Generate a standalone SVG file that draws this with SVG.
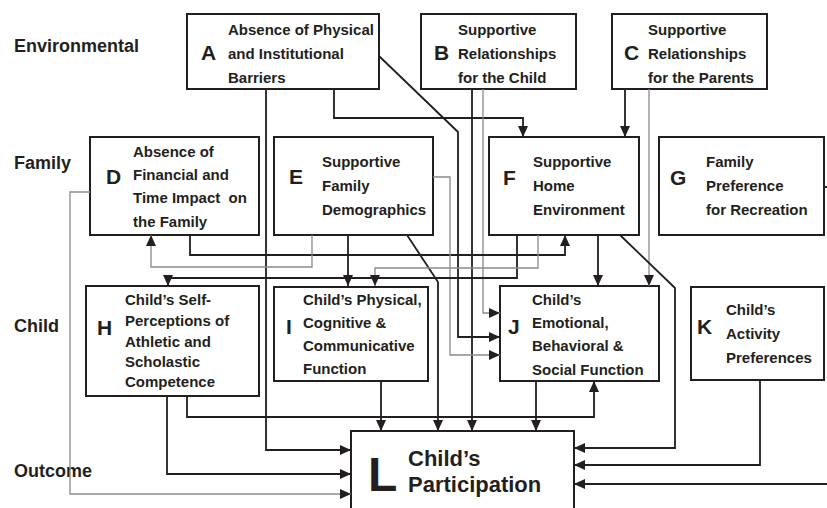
<svg xmlns="http://www.w3.org/2000/svg" width="827" height="508" viewBox="0 0 827 508">
<defs>
<style>
.box{fill:#fff;stroke:#231f20;stroke-width:2}
.t{font-family:"Liberation Sans",Arial,sans-serif;font-weight:bold;font-size:15px;fill:#231f20}
.lt{font-family:"Liberation Sans",Arial,sans-serif;font-weight:bold;font-size:21px;fill:#231f20}
.side{font-family:"Liberation Sans",Arial,sans-serif;font-weight:bold;font-size:18px;fill:#231f20}
.big{font-family:"Liberation Sans",Arial,sans-serif;font-weight:bold;font-size:22px;fill:#231f20}
.c{fill:none;stroke:#231f20;stroke-width:1.8;marker-end:url(#ah)}
.g{fill:none;stroke:#8a8a8a;stroke-width:1.3;marker-end:url(#ah)}
</style>
<marker id="ah" markerUnits="userSpaceOnUse" markerWidth="11" markerHeight="10" refX="11" refY="5" orient="auto">
<path d="M0,0 L11,5 L0,10 z" fill="#231f20"/>
</marker>
</defs>
<rect width="827" height="508" fill="#fff"/>
<g id="labels">
<text class="side" x="14" y="52">Environmental</text>
<text class="side" x="14" y="169">Family</text>
<text class="side" x="14" y="332">Child</text>
<text class="side" x="14" y="477">Outcome</text>
</g>
<g id="A">
<rect class="box" x="187" y="14" width="192" height="75"/>
<text class="lt" x="201" y="60">A</text>
<text class="t" x="228" y="35">Absence of Physical</text>
<text class="t" x="228" y="59">and Institutional</text>
<text class="t" x="228" y="83">Barriers</text>
</g>
<g id="B">
<rect class="box" x="421" y="14" width="155" height="75"/>
<text class="lt" x="434" y="60">B</text>
<text class="t" x="458" y="35">Supportive</text>
<text class="t" x="458" y="59">Relationships</text>
<text class="t" x="458" y="83">for the Child</text>
</g>
<g id="C">
<rect class="box" x="612" y="14" width="155" height="75"/>
<text class="lt" x="624" y="60">C</text>
<text class="t" x="648" y="35">Supportive</text>
<text class="t" x="648" y="59">Relationships</text>
<text class="t" x="648" y="83">for the Parents</text>
</g>
<g id="D">
<rect class="box" x="90" y="137" width="169" height="98"/>
<text class="lt" x="106" y="184">D</text>
<text class="t" x="133" y="157">Absence of</text>
<text class="t" x="133" y="180">Financial and</text>
<text class="t" x="133" y="203">Time Impact&#160; on</text>
<text class="t" x="133" y="227">the Family</text>
</g>
<g id="E">
<rect class="box" x="274" y="137" width="159" height="98"/>
<text class="lt" x="289" y="184">E</text>
<text class="t" x="322" y="167">Supportive</text>
<text class="t" x="322" y="191">Family</text>
<text class="t" x="322" y="215">Demographics</text>
</g>
<g id="F">
<rect class="box" x="489" y="137" width="150" height="98"/>
<text class="lt" x="503" y="185">F</text>
<text class="t" x="533" y="167">Supportive</text>
<text class="t" x="533" y="191">Home</text>
<text class="t" x="533" y="215">Environment</text>
</g>
<g id="G">
<rect class="box" x="659" y="137" width="165" height="98"/>
<text class="lt" x="670" y="185">G</text>
<text class="t" x="706" y="167">Family</text>
<text class="t" x="706" y="191">Preference</text>
<text class="t" x="706" y="215">for Recreation</text>
</g>
<g id="H">
<rect class="box" x="86" y="286" width="173" height="110"/>
<text class="lt" x="97" y="335">H</text>
<text class="t" x="125" y="305">Child’s Self-</text>
<text class="t" x="125" y="326">Perceptions of</text>
<text class="t" x="125" y="347">Athletic and</text>
<text class="t" x="125" y="367">Scholastic</text>
<text class="t" x="125" y="387">Competence</text>
</g>
<g id="I">
<rect class="box" x="274" y="287" width="154" height="94"/>
<text class="lt" x="286" y="334">I</text>
<text class="t" x="303" y="305">Child’s Physical,</text>
<text class="t" x="303" y="328">Cognitive &amp;</text>
<text class="t" x="303" y="351">Communicative</text>
<text class="t" x="303" y="374">Function</text>
</g>
<g id="J">
<rect class="box" x="500" y="286" width="159" height="95"/>
<text class="lt" x="508" y="334">J</text>
<text class="t" x="532" y="305">Child’s</text>
<text class="t" x="532" y="328">Emotional,</text>
<text class="t" x="532" y="351">Behavioral &amp;</text>
<text class="t" x="532" y="375">Social Function</text>
</g>
<g id="K">
<rect class="box" x="691" y="287" width="133" height="93"/>
<text class="lt" x="697" y="334">K</text>
<text class="t" x="726" y="315">Child’s</text>
<text class="t" x="726" y="339">Activity</text>
<text class="t" x="726" y="363">Preferences</text>
</g>
<g id="L">
<rect class="box" x="351" y="431" width="223" height="90"/>
<text x="368" y="491" font-family="'Liberation Sans',Arial,sans-serif" font-weight="bold" font-size="48" fill="#231f20">L</text>
<text class="big" x="408" y="466">Child’s</text>
<text class="big" x="408" y="492">Participation</text>
</g>
<g id="connectors">
<path class="c" d="M266,89 V450 H351"/>
<path class="c" d="M334,89 V118 H523 V137"/>
<path class="c" d="M379,56 L458,132 V337 H500"/>
<path class="c" d="M472,89 V431"/>
<path class="g" d="M483,89 V313 H500"/>
<path class="c" d="M625,89 V137"/>
<path class="g" d="M649,89 V286"/>
<path class="c" d="M190,235 V255 H565 V235"/>
<path class="g" d="M90,192 H70 V494 H351"/>
<path class="g" d="M312,235 V267 H151 V235"/>
<path class="c" d="M348,235 V286"/>
<path class="g" d="M433,177 H450 V355 H500"/>
<path class="c" d="M407,235 L438,282 V431"/>
<path class="c" d="M517,235 V278 H168 V286"/>
<path class="g" d="M538,235 V268 H375 V286"/>
<path class="c" d="M598,235 V286"/>
<path class="c" d="M620,235 L675,288 V448 H574"/>
<path class="c" d="M167,396 V474 H351"/>
<path class="c" d="M187,396 V417 H594 V381"/>
<path class="c" d="M381,381 V431"/>
<path class="c" d="M536,381 V431"/>
<path class="c" d="M760,380 V465 H574"/>
<path class="c" d="M824,187 H834 V484 H574"/>
</g>
</svg>
